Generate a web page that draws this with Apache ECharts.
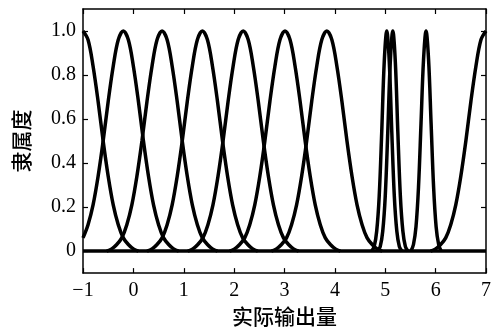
<!DOCTYPE html>
<html>
<head>
<meta charset="utf-8">
<script src="https://cdn.jsdelivr.net/npm/echarts@6/dist/echarts.min.js"></script>
<style>
html,body{margin:0;padding:0;background:#fff;}
#chart{width:497px;height:332px;}
</style>
</head>
<body>
<div id="chart"></div>
<script>
// Tick labels
const xTickValues = [-1, 0, 1, 2, 3, 4, 5, 6, 7];
const yTickValues = [0, 0.2, 0.4, 0.6, 0.8, 1.0];
const xTitle = '实际输出量';
const yTitle = '隶属度';

// Membership curves: [x, membership]
const mf1 = [[-1.0,1.00],[-0.9,0.96],[-0.8,0.84],[-0.7,0.68],[-0.6,0.50],[-0.5,0.34],[-0.4,0.21],[-0.3,0.12],[-0.2,0.06],[-0.1,0.03],[0.0,0.01],[0.1,0.00]];
const mf2 = [[-1.0,0.06],[-0.9,0.12],[-0.8,0.21],[-0.7,0.34],[-0.6,0.50],[-0.5,0.68],[-0.4,0.84],[-0.3,0.96],[-0.2,1.00],[-0.1,0.96],[0.0,0.84],[0.1,0.68],[0.2,0.50],[0.3,0.34],[0.4,0.21],[0.5,0.12],[0.6,0.06],[0.7,0.03],[0.8,0.01],[0.9,0.00]];
const mf3 = [[-0.53,0.00],[-0.43,0.01],[-0.33,0.03],[-0.23,0.06],[-0.13,0.12],[-0.03,0.21],[0.07,0.34],[0.17,0.50],[0.27,0.68],[0.37,0.84],[0.47,0.96],[0.57,1.00],[0.67,0.96],[0.77,0.84],[0.87,0.68],[0.97,0.50],[1.07,0.34],[1.17,0.21],[1.27,0.12],[1.37,0.06],[1.47,0.03],[1.57,0.01],[1.67,0.00]];
const mf4 = [[0.27,0.00],[0.37,0.01],[0.47,0.03],[0.57,0.06],[0.67,0.12],[0.77,0.21],[0.87,0.34],[0.97,0.50],[1.07,0.68],[1.17,0.84],[1.27,0.96],[1.37,1.00],[1.47,0.96],[1.57,0.84],[1.67,0.68],[1.77,0.50],[1.87,0.34],[1.97,0.21],[2.07,0.12],[2.17,0.06],[2.27,0.03],[2.37,0.01],[2.47,0.00]];
const mf5 = [[1.08,0.00],[1.18,0.01],[1.28,0.03],[1.38,0.06],[1.48,0.12],[1.58,0.21],[1.68,0.34],[1.78,0.50],[1.88,0.68],[1.98,0.84],[2.08,0.96],[2.18,1.00],[2.28,0.96],[2.38,0.84],[2.48,0.68],[2.58,0.50],[2.68,0.34],[2.78,0.21],[2.88,0.12],[2.98,0.06],[3.08,0.03],[3.18,0.01],[3.28,0.00]];
const mf6 = [[1.91,0.00],[2.01,0.01],[2.11,0.03],[2.21,0.06],[2.31,0.12],[2.41,0.21],[2.51,0.34],[2.61,0.50],[2.71,0.68],[2.81,0.84],[2.91,0.96],[3.01,1.00],[3.11,0.96],[3.21,0.84],[3.31,0.68],[3.41,0.50],[3.51,0.34],[3.61,0.21],[3.71,0.12],[3.81,0.06],[3.91,0.03],[4.01,0.01],[4.11,0.00]];
const mf7 = [[2.74,0.00],[2.84,0.01],[2.94,0.03],[3.04,0.06],[3.14,0.12],[3.24,0.21],[3.34,0.34],[3.44,0.50],[3.54,0.68],[3.64,0.84],[3.74,0.96],[3.84,1.00],[3.94,0.96],[4.04,0.84],[4.14,0.68],[4.24,0.50],[4.34,0.34],[4.44,0.21],[4.54,0.12],[4.64,0.06],[4.74,0.03],[4.84,0.01],[4.94,0.00]];
const mf8 = [[4.73,0.00],[4.78,0.02],[4.83,0.09],[4.88,0.25],[4.93,0.54],[4.98,0.86],[5.03,1.00],[5.08,0.86],[5.13,0.54],[5.18,0.25],[5.23,0.09],[5.28,0.02],[5.33,0.00]];
const mf9 = [[4.85,0.00],[4.90,0.02],[4.95,0.09],[5.00,0.25],[5.05,0.54],[5.10,0.86],[5.15,1.00],[5.20,0.86],[5.25,0.54],[5.30,0.25],[5.35,0.09],[5.40,0.02],[5.45,0.00]];
const mf10 = [[5.51,0.00],[5.56,0.03],[5.61,0.11],[5.66,0.29],[5.71,0.58],[5.76,0.87],[5.81,1.00],[5.86,0.87],[5.91,0.58],[5.96,0.29],[6.01,0.11],[6.06,0.03],[6.11,0.00]];
const mf11 = [[5.9,0.00],[6.0,0.01],[6.1,0.03],[6.2,0.06],[6.3,0.12],[6.4,0.21],[6.5,0.34],[6.6,0.50],[6.7,0.68],[6.8,0.84],[6.9,0.96],[7.0,1.00]];
const baseline = [[-1, 0], [7, 0]];

const curves = [mf1, mf2, mf3, mf4, mf5, mf6, mf7, mf8, mf9, mf10, mf11, baseline];

const serif = 'Liberation Serif';
const cjk = 'Noto Sans CJK SC';

const chart = echarts.init(document.getElementById('chart'), null, {renderer: 'canvas'});

const fmtX = v => v < 0 ? '\u2212' + Math.abs(v) : String(v);
const fmtY = v => v === 0 ? '0' : v.toFixed(1);

const lineStyleAxis = {color: '#000', width: 1.5};

const option = {
  animation: false,
  backgroundColor: '#fff',
  grid: {left: 83, right: 11, top: 9, bottom: 55, containLabel: false},
  xAxis: [
    {
      type: 'value', min: -1, max: 7, interval: 1, position: 'bottom',
      axisLine: {show: true, onZero: false, lineStyle: lineStyleAxis},
      axisTick: {show: true, inside: true, length: 5, lineStyle: {color: '#000', width: 1.2}},
      axisLabel: {show: true, margin: 8, color: '#000', fontFamily: serif, fontSize: 20, formatter: fmtX},
      splitLine: {show: false},
      name: xTitle, nameLocation: 'middle', nameGap: 32,
      nameTextStyle: {color: '#000', fontFamily: cjk, fontSize: 21, fontWeight: 500}
    },
    {
      type: 'value', min: -1, max: 7, interval: 1, position: 'top',
      axisLine: {show: true, onZero: false, lineStyle: lineStyleAxis},
      axisTick: {show: true, inside: true, length: 5, lineStyle: {color: '#000', width: 1.2}},
      axisLabel: {show: false},
      splitLine: {show: false}
    }
  ],
  yAxis: [
    {
      type: 'value', min: -0.1, max: 1.1, position: 'left',
      axisLine: {show: true, onZero: false, lineStyle: lineStyleAxis},
      axisTick: {show: true, inside: true, length: 5, customValues: yTickValues, lineStyle: {color: '#000', width: 1.2}},
      axisLabel: {show: true, margin: 7, color: '#000', fontFamily: serif, fontSize: 20, customValues: yTickValues, formatter: fmtY},
      splitLine: {show: false},
      name: yTitle, nameLocation: 'middle', nameGap: 51, nameRotate: 90,
      nameTextStyle: {color: '#000', fontFamily: cjk, fontSize: 21, fontWeight: 500}
    },
    {
      type: 'value', min: -0.1, max: 1.1, position: 'right',
      axisLine: {show: true, onZero: false, lineStyle: lineStyleAxis},
      axisTick: {show: true, inside: true, length: 5, customValues: yTickValues, lineStyle: {color: '#000', width: 1.2}},
      axisLabel: {show: false},
      splitLine: {show: false}
    }
  ],
  series: curves.map(d => ({
    type: 'line',
    data: d,
    xAxisIndex: 0,
    yAxisIndex: 0,
    smooth: 0.35,
    showSymbol: false,
    symbol: 'none',
    silent: true,
    clip: true,
    lineStyle: {color: '#000', width: 3.5}
  }))
};

chart.setOption(option);
</script>
</body>
</html>
